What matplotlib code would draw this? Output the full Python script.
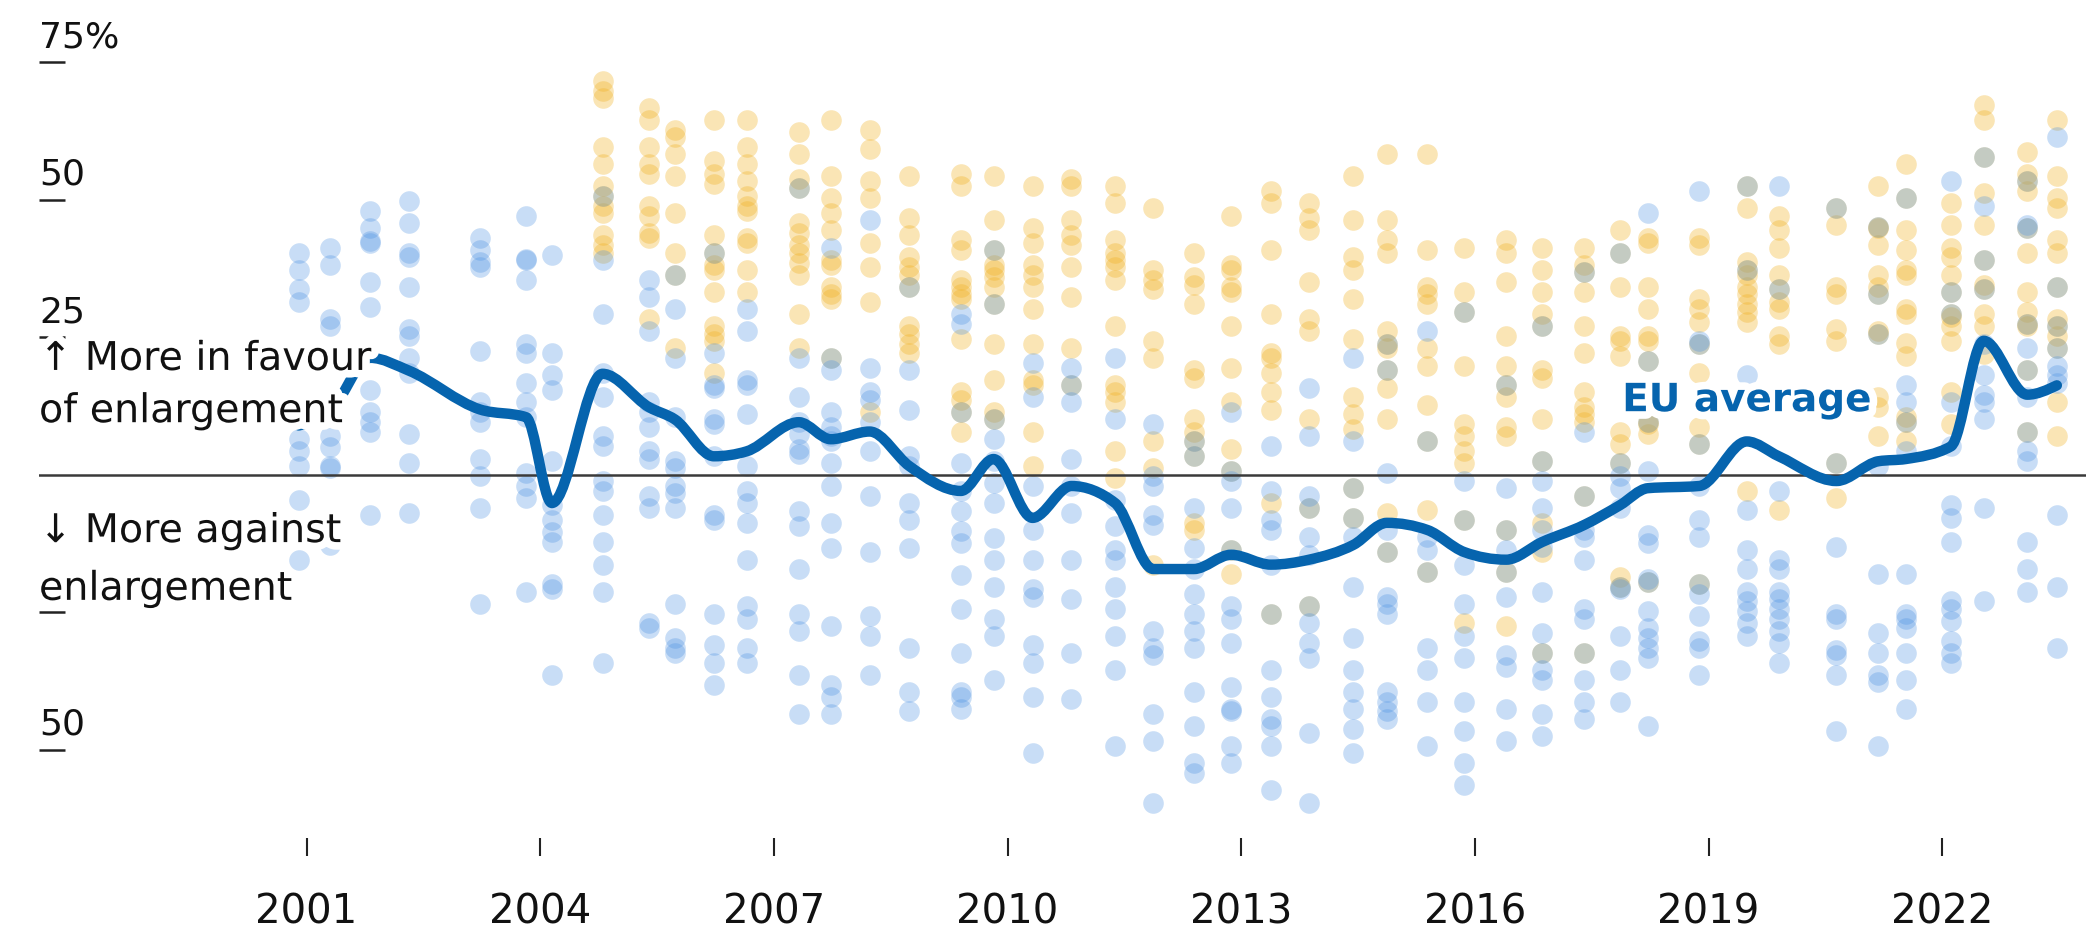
import matplotlib
matplotlib.use("Agg")
import matplotlib.pyplot as plt
import matplotlib.patheffects as pe
from matplotlib.path import Path
from matplotlib.patches import PathPatch
import numpy as np

# survey waves (decimal year)
survey_dates = [2000.9, 2001.3, 2001.82, 2002.31, 2003.23, 2003.82, 2004.15, 2004.8,
                2005.4, 2005.73, 2006.23, 2006.65, 2007.32, 2007.73, 2008.23, 2008.74,
                2009.4, 2009.82, 2010.32, 2010.82, 2011.38, 2011.87, 2012.39, 2012.87,
                2013.38, 2013.87, 2014.44, 2014.87, 2015.39, 2015.86, 2016.4, 2016.86,
                2017.4, 2017.86, 2018.22, 2018.88, 2019.49, 2019.9, 2020.64, 2021.18,
                2021.53, 2022.11, 2022.53, 2023.09, 2023.47]

# net support per country, older member states (blue)
blue_vals = [
    [40.4, 37.3, 33.8, 31.5, 6.5, 4.3, 1.6, -4.6, -15.4],
    [41.3, 38.2, 28.4, 27, 7, 5, 1.6, 1.2, -12.7],
    [48, 44.9, 42.6, 42.2, 35.1, 30.6, 15.4, 11.4, 9.6, 7.9, -7.3],
    [49.8, 45.8, 40.4, 39.6, 34.2, 26.6, 25.3, 21.3, 18.6, 7.4, 2.1, -6.9],
    [43.1, 40.9, 38.7, 37.8, 22.6, 13.2, 11.4, 9.6, 2.9, -0.2, -6.0, -23.4],
    [47, 39.3, 39.1, 35.5, 23.9, 22.1, 16.8, 13.2, 10.5, 0.3, -2, -4.2, -21.2],
    [40, 22.1, 18.1, 15.4, 2.5, -5.5, -8.2, -10.4, -12.2, -19.8, -20.7, -36.3],
    [50.7, 39.1, 29.3, 18.6, 14.1, 7, 5.2, -1.1, -2.9, -7.3, -12.2, -16.3, -21.2, -34.1],
    [35.5, 32.4, 26.2, 13.2, 11.4, 8.75, 4.3, 2.9, -3.75, -6, -27, -27.9],
    [36.4, 30.2, 21.3, 10.5, 2.5, 1.2, -2, -3.3, -6, -23.4, -29.6, -31.4, -32.3],
    [40.4, 22.1, 16.3, 15.9, 10.1, 9.2, 3.4, -7.3, -8.2, -25.2, -31, -34.1, -38.1],
    [30.2, 26.2, 17.2, 16.3, 11, 1.6, -2.9, -5.1, -8.7, -15.4, -23.8, -26.1, -31.4, -34.1],
    [52.1, 21.3, 14.1, 9.6, 7.4, 4.7, 3.8, -6.5, -9.2, -17.1, -25.2, -28.3, -36.3, -43.4],
    [41.3, 21.3, 19, 11.4, 8.75, 7, 6.1, 2.1, -2, -8.7, -13.2, -27.5, -38.2, -40.4, -43.5],
    [46.3, 19.5, 15, 13.7, 9.6, 4.3, -3.75, -14, -25.6, -29.2, -36.3],
    [34.2, 19, 11.9, 3.4, 1.6, -5.1, -8.2, -13.2, -31.4, -39.5, -43],
    [29.3, 27.5, 11.4, 2.1, -2.9, -6.5, -10.1, -12.3, -18.1, -24.3, -32.3, -39.5, -40.4, -42.6],
    [40.9, 31.1, 10.1, 6.5, 2.5, -1.5, -5.1, -11.4, -15.4, -20.3, -26.1, -29.2, -37.2],
    [20.4, 14.1, -2, -10, -15.4, -20.7, -22.1, -31, -34.1, -40.4, -50.6],
    [19.5, 16.3, 13.2, 2.9, -2, -6.9, -15.4, -22.5, -32.3, -40.8],
    [21.3, 10.1, -4.6, -9.2, -13.6, -15.4, -20.3, -24.3, -29.2, -35.4, -49.3],
    [9.2, -0.2, -2, -7.3, -9.1, -28.3, -31.4, -32.8, -43.5, -48.4, -59.6],
    [6.1, 3.4, -6, -13.2, -17.1, -21.6, -25.2, -28.3, -31.4, -39.5, -45.7, -52.3, -54.1],
    [11.4, 0.7, -1.1, -6, -13.6, -23.8, -26.1, -30.5, -38.6, -42.6, -43, -49.3, -52.4],
    [5.2, -2.9, -8.2, -10, -16.3, -25.2, -35.4, -40.4, -44.4, -45.7, -49.3, -57.3],
    [15.9, 7, -3.75, -6, -11.3, -14.5, -23.8, -27, -30.5, -33.2, -47, -59.6],
    [21.3, 6.1, -2.4, -7.8, -11.3, -20.3, -29.6, -35.4, -39.5, -42.6, -46.1, -50.6],
    [23.9, 19, 0.3, -10, -14, -22.1, -23.4, -25.2, -39.5, -41.3, -43, -44.4],
    [26.2, 6.1, -11.3, -13.6, -17.6, -31.4, -35.4, -41.3, -49.3],
    [29.7, -1.1, -8.2, -16.3, -23.4, -29.2, -33.2, -41.3, -46.6, -52.4, -56.4],
    [16.3, -2.4, -10, -13.6, -17.6, -22.1, -32.8, -35, -42.6, -48.4],
    [27, 2.5, -1.1, -6, -10, -13.1, -21.2, -28.7, -32.3, -35.4, -37.2, -43.4, -47.5],
    [36.9, 7.9, -3.75, -10, -11.3, -15.4, -24.3, -26.1, -32.3, -37.2, -41.2, -44.4],
    [40.4, 2.1, -0.2, -2.4, -6, -20.3, -20.7, -29.2, -35.4, -41.2],
    [47.6, 20.8, 9.6, 0.7, -10.9, -12.3, -18.9, -19.4, -24.7, -27.9, -29.6, -31.4, -33.2, -45.7],
    [51.6, 24.4, 23.9, 5.6, -2, -8.2, -11.3, -19.8, -21.6, -25.6, -30.1, -31.4, -36.3],
    [52.5, 37.3, 18.1, -6.4, -13.6, -17.1, -21.2, -23, -24.8, -27, -29.2],
    [52.5, 33.8, -2.9, -15.4, -17.1, -21.2, -22.5, -24.3, -26.1, -28.3, -30.5, -34.1],
    [48.5, 2.1, -13.1, -25.2, -26.1, -31.9, -32.8, -36.3, -46.6],
    [45, 32.9, 25.7, 1.6, -18, -28.7, -32.3, -36.3, -37.7, -49.3],
    [50.3, 16.3, 13.2, 9.6, 4.3, -18, -25.2, -26.1, -27.9, -32.3, -37.2, -42.6],
    [53.4, 33.3, 29.3, 13.2, 5.2, -5.5, -7.8, -12.2, -22.9, -24.3, -26.5, -30.1, -32.3, -34.1],
    [57.9, 48.9, 39.1, 33.8, 23.9, 18.1, 14.6, 13.2, 10.1, -6, -22.9],
    [53.4, 45.4, 44.9, 27.5, 23, 19, 14.1, 7.9, 4.3, 2.5, -12.2, -17.1, -21.2],
    [61.4, 34.2, 27, 23, 19.9, 18.1, 16.8, -7.3, -20.3, -31.4],
]

# net support per country, newer member states (yellow)
yellow_vals = [
    [], [], [], [], [], [], [],
    [71.7, 69.9, 68.6, 59.6, 56.5, 52.5, 50.7, 48.9, 47.6, 43.6, 41.8, 40.4],
    [66.8, 64.6, 59.6, 56.5, 54.7, 48.9, 47.1, 44, 43.1, 28.4],
    [62.8, 61.4, 58.3, 54.3, 47.6, 40.4, 36.4, 23],
    [64.6, 57, 54.7, 52.9, 43.6, 40.4, 38.2, 37.3, 33.3, 27.1, 25.7, 24.4, 18.6],
    [64.6, 59.6, 56.5, 53.4, 50.7, 48.9, 48, 43.1, 42.2, 37.3, 33.3],
    [62.3, 58.3, 53.8, 52.1, 45.8, 44, 41.8, 40.4, 38.6, 36.4, 29.3, 23],
    [64.6, 54.3, 50.3, 47.6, 44.5, 39.1, 38.2, 34.2, 32.9, 32, 21.3],
    [62.8, 59.2, 53.4, 50.3, 42.2, 37.8, 31.5, 11.4],
    [54.3, 46.7, 43.6, 39.6, 37.8, 36.4, 34.2, 27.1, 25.7, 23.9, 22.1],
    [54.7, 52.5, 42.7, 40.9, 35.5, 34.2, 32.9, 32, 24.8, 15, 13.7, 11.4, 7.9],
    [54.3, 46.3, 40.9, 38.2, 37.3, 36, 34.2, 31.1, 23.9, 17.2, 11.4, 10.1],
    [52.5, 44.9, 42.2, 38.2, 36.4, 34.2, 30.2, 23.9, 17.2, 16.3, 7.9, 1.6],
    [53.8, 52.5, 46.3, 43.6, 41.8, 37.8, 32.4, 23, 16.3],
    [52.5, 49.4, 42.7, 40.4, 39.1, 37.8, 35.5, 27.1, 16.3, 15, 13.2, 4.3, -0.6],
    [48.5, 37.3, 35.5, 33.8, 24.4, 21.3, 6.1, 1.2, -16.3],
    [40.4, 36, 34.6, 31.1, 19, 17.7, 10.1, 7.9, 6.1, 3.4, -8.7, -10],
    [47.1, 38.2, 37.3, 34.2, 33.3, 27.1, 19.5, 13.2, 4.7, 0.7, -13.6, -18],
    [51.6, 49.4, 40.9, 29.3, 22.1, 21.3, 18.6, 15, 11.9, -5.1, -25.2],
    [49.4, 46.7, 44.5, 35.1, 28.4, 26.2, 10.1, -6, -23.8],
    [54.3, 46.3, 39.6, 37.3, 32, 24.8, 14.1, 11, 8.3, -2.4, -7.8],
    [58.3, 46.3, 42.7, 40.4, 26.2, 23.9, 23, 19, 15.9, 10.1, -6.9, -14],
    [58.3, 40.9, 34.2, 32.9, 31.1, 23, 19.9, 12.8, 6.1, -6.4, -17.6],
    [41.3, 33.3, 29.7, 19.9, 9.2, 7, 4.3, 2.1, -8.2, -27],
    [42.7, 40.4, 35.1, 25.3, 19.9, 16.3, 14.1, 8.75, 7, -10, -17.6, -27.4],
    [41.3, 37.3, 33.3, 29.3, 27, 19, 17.6, 10.1, 2.5, -8.7, -14, -32.3],
    [41.3, 38.2, 36.9, 33.3, 27, 22.1, 15, 12.3, 11, 9.6, -3.75, -32.3],
    [44.5, 40.4, 34.2, 25.3, 24.4, 21.7, 7.9, 5.6, 2.1, -18.5, -20.3],
    [43.1, 42.2, 34.2, 30.2, 25.3, 24.4, 20.8, 9.6, 9.2, 7.4, -19.4],
    [43.1, 41.8, 32, 30.2, 27.9, 23.9, 18.6, 8.75, 5.6, -19.8],
    [52.5, 48.5, 38.7, 37.3, 36.4, 34.2, 32.9, 31.1, 29.7, 27.9, -2.9],
    [47.1, 44.5, 41.3, 36.4, 33.8, 31.5, 30.2, 25.3, 23.9, -6.4],
    [48.5, 45.4, 34.2, 32.9, 26.6, 24.4, 2.1, -4.2],
    [52.5, 45, 44.9, 41.8, 36.4, 34.2, 32.9, 26.2, 25.7, 14.1, 12.3, 7],
    [56.5, 50.3, 44.5, 40.9, 37.3, 36.4, 30.2, 29.3, 24, 21.7, 10.5, 9.6, 6.1],
    [49.4, 45.4, 41.3, 39.6, 36.4, 33.3, 29.3, 28.8, 27.1, 24.4, 15, 9.2],
    [67.2, 64.6, 57.9, 51.2, 45.4, 39.1, 34.6, 33.8, 29.3, 27.1, 22],
    [58.8, 54.7, 53.4, 51.6, 44.9, 40.4, 33.3, 29.7, 27.5, 27.1, 19, 7.9],
    [64.6, 54.3, 50.3, 48.5, 42.7, 40.4, 34.2, 28.4, 27, 25.3, 23, 13.2, 7],
]

eu_average = [9, 11.5, 21.3, 19, 11.9, 10.5, -5.1, 18.4, 12.3, 10.1, 3.4, 4.3,
              9.6, 6.5, 7.9, 1.6, -2.9, 2.9, -7.8, -2, -5.1, -17.1, -17.1, -14.5,
              -16.3, -15.4, -12.7, -8.7, -10, -14, -15.4, -12.2, -9.1, -5.5, -2.4, -2,
              6.1, 3.4, -1.1, 2.5, 2.9, 5.2, 24.4, 14.6, 16.3]

year_ticks = [2001, 2004, 2007, 2010, 2013, 2016, 2019, 2022]
y_ticks = [75, 50, 25, -25, -50]
y_tick_labels = ["75%", "50", "25", "", "50"]

line_blue = "#0664ae"
halo = [pe.withStroke(linewidth=11, foreground="white")]


def monotone_path(xs, ys):
    # smooth curve through the points (monotone cubic, like d3.curveMonotoneX)
    x = np.asarray(xs, float)
    y = np.asarray(ys, float)
    h = np.diff(x)
    s = np.diff(y) / h
    m = np.zeros_like(x)
    for i in range(1, len(x) - 1):
        if s[i - 1] * s[i] <= 0:
            m[i] = 0
        else:
            p = (s[i - 1] * h[i] + s[i] * h[i - 1]) / (h[i - 1] + h[i])
            m[i] = np.sign(s[i - 1]) * min(abs(s[i - 1]), abs(s[i]), 0.5 * abs(p)) * 2
    m[0] = (3 * s[0] - m[1]) / 2
    m[-1] = (3 * s[-1] - m[-2]) / 2
    verts = [(x[0], y[0])]
    codes = [Path.MOVETO]
    for i in range(len(x) - 1):
        d = h[i] / 3
        verts += [(x[i] + d, y[i] + m[i] * d), (x[i + 1] - d, y[i + 1] - m[i + 1] * d),
                  (x[i + 1], y[i + 1])]
        codes += [Path.CURVE4] * 3
    return Path(verts, codes)


W, H = 2086, 934
fig = plt.figure(figsize=(W / 100, H / 100), dpi=100)
ax = fig.add_axes([39 / W, (H - 838) / H, (W - 39) / W, 838 / H])
ax.set_xlim(1997.566, 2023.844)
ax.set_ylim(-66.0, 86.36)
for s in ax.spines.values():
    s.set_visible(False)

bx = [d for d, vals in zip(survey_dates, blue_vals) for v in vals]
by = [v for vals in blue_vals for v in vals]
yx = [d for d, vals in zip(survey_dates, yellow_vals) for v in vals]
yy = [v for vals in yellow_vals for v in vals]

ax.scatter(yx, yy, s=220, color="#f0b020", alpha=0.33, linewidths=0, zorder=2)
ax.scatter(bx, by, s=220, color="#4a90e2", alpha=0.3, linewidths=0, zorder=2)

ax.axhline(0, color="#3a3a3a", lw=1.8, zorder=3)
ax.add_patch(PathPatch(monotone_path(survey_dates, eu_average), fill=False,
                       edgecolor=line_blue, lw=7.5, capstyle="round",
                       joinstyle="round", zorder=4))

# x axis
ax.set_xticks(year_ticks)
ax.set_xticklabels([str(y) for y in year_ticks])
ax.tick_params(axis="x", direction="out", length=13, width=1.5, color="#222222",
               labelsize=29, pad=26, labelcolor="#111111")

# y axis: short dashes with labels sitting above them
ax.set_yticks(y_ticks)
ax.set_yticklabels([])
ax.tick_params(axis="y", direction="in", length=19, width=1.8, color="#222222")
for v, lab in zip(y_ticks, y_tick_labels):
    if lab:
        ax.annotate(lab, xy=(0, v), xycoords=ax.get_yaxis_transform(),
                    xytext=(0, 11), textcoords="offset points",
                    fontsize=26, color="#111111", ha="left", va="baseline", zorder=5)

# side notes
notes = [("↑ More in favour", 19.1), ("of enlargement", 9.6),
         ("↓ More against", -12.2), ("enlargement", -22.7)]
for txt, v in notes:
    ax.text(0, v, txt, transform=ax.get_yaxis_transform(), fontsize=28.5,
            color="#111111", ha="left", va="baseline", path_effects=halo, zorder=6)

ax.text(2017.89, 11.6, "EU average", fontsize=28, fontweight="bold", color=line_blue,
        ha="left", va="baseline", path_effects=halo, zorder=6)

fig.savefig("out.png", dpi=100)
